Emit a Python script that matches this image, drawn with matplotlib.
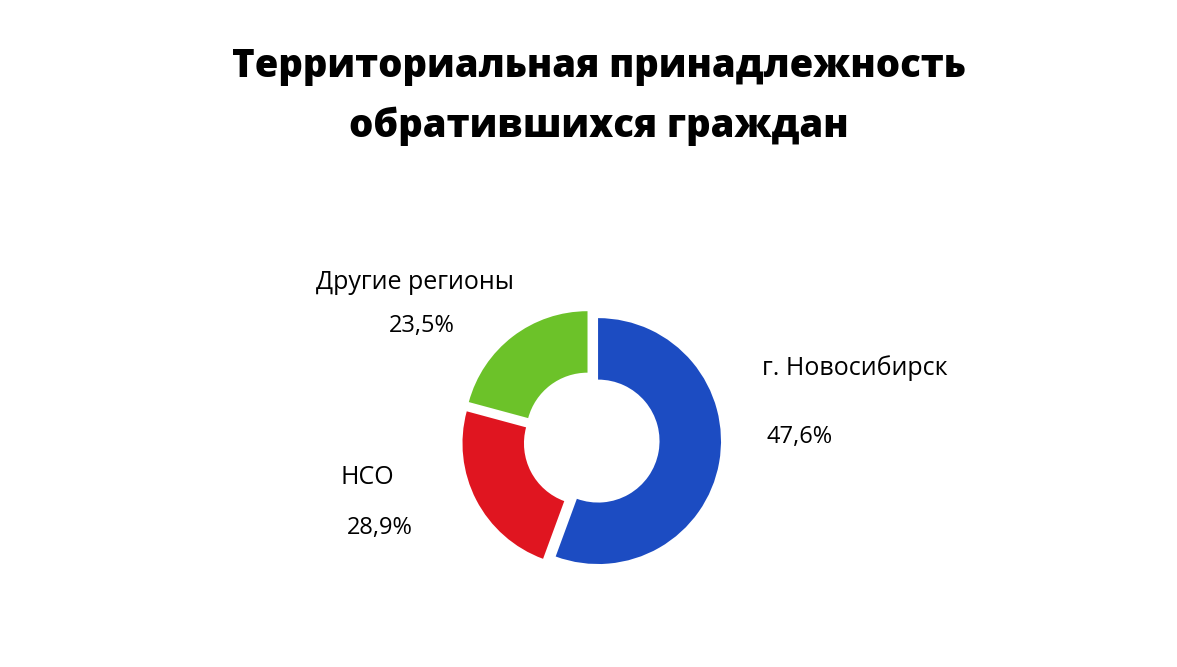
import matplotlib
matplotlib.use("Agg")
import matplotlib.pyplot as plt

W, H = 1177, 667

# Shares as drawn (the slide's donut geometry), and the labels printed on the slide
categories = ["г. Новосибирск", "НСО", "Другие регионы"]
drawn_shares = [55.6, 23.6, 20.8]
label_texts = ["47,6%", "28,9%", "23,5%"]
colors = ["#1c4cc2", "#e01520", "#6cc229"]

plt.rcParams['font.family'] = ['Open Sans', 'DejaVu Sans']

fig = plt.figure(figsize=(W / 100, H / 100), dpi=100)
fig.patch.set_facecolor("white")


def px(x, y):
    return x / W, 1 - y / H


# donut axes: 300x300 px box centred on the ring
cx, cy, box = 592, 440, 300
ax = fig.add_axes([(cx - box / 2) / W, (H - cy - box / 2) / H, box / W, box / H])
ax.pie(drawn_shares, colors=colors, startangle=90, counterclock=False,
       explode=[0.05, 0.06, 0.06],
       wedgeprops=dict(width=0.5, edgecolor="none"))
ax.set_xlim(-1.22, 1.22)
ax.set_ylim(-1.22, 1.22)
ax.set_aspect("equal")
ax.axis("off")

# title
fig.text(*px(599, 66), "Территориальная принадлежность", ha="center", va="center",
         fontsize=27.5, fontweight=800, color="black")
fig.text(*px(599, 126), "обратившихся граждан", ha="center", va="center",
         fontsize=27.5, fontweight=800, color="black")

# category labels and percentages
label_pos = {
    "г. Новосибирск": ((855, 368), (800, 437)),
    "НСО": ((367, 478), (380, 528)),
    "Другие регионы": ((415, 282), (422, 326)),
}
for name, pct in zip(categories, label_texts):
    (nx, ny), (vx, vy) = label_pos[name]
    fig.text(*px(nx, ny), name, ha="center", va="center", fontsize=18, color="black")
    fig.text(*px(vx, vy), pct, ha="center", va="center", fontsize=17, color="black")

fig.savefig("out.png", dpi=100, facecolor="white")
